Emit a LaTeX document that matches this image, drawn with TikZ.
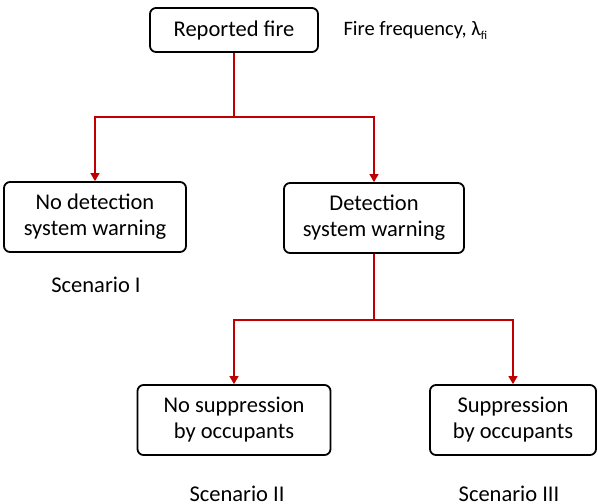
\documentclass[tikz,border=0pt]{standalone}
\usepackage{fontspec}
\setmainfont{Carlito}
\usepackage{tikz}
\usetikzlibrary{arrows.meta, positioning, calc}

\definecolor{treered}{RGB}{192,0,0}

\tikzset{
    eventbox/.style={draw, line width=1.8pt, rounded corners=6pt, align=center,
        font=\fontsize{22.5}{26}\selectfont, inner sep=0pt},
    branch/.style={treered, line width=1.3pt},
    branchto/.style={branch, -{Triangle[width=9pt,length=8pt]}},
    scenlabel/.style={font=\fontsize{22.5}{26}\selectfont}
}

\begin{document}
\begin{tikzpicture}[x=1pt, y=-1pt]
\useasboundingbox (0,0) rectangle (598,504);

% Initiating event
\node[eventbox, minimum width=168pt, minimum height=44pt] (fire) at (234,30) {Reported fire};
\node[anchor=west, font=\fontsize{20.5}{24}\selectfont] (freq) at (340,30)
    {Fire frequency, λ\raisebox{-0.4ex}{\fontsize{12}{14}\selectfont fi}};

% Detection branch
\node[eventbox, minimum width=182pt, minimum height=70pt] (nodet) at (95,217)
    {No detection\\system warning};
\node[eventbox, minimum width=180pt, minimum height=70pt] (det) at (374,218)
    {Detection\\system warning};
\node[scenlabel] (scen1) at (96,285) {Scenario I};

% Suppression branch
\node[eventbox, minimum width=193pt, minimum height=70pt] (nosup) at (234,420)
    {No suppression\\by occupants};
\node[eventbox, minimum width=166pt, minimum height=70pt] (sup) at (513,420)
    {Suppression\\by occupants};
\node[scenlabel] (scen2) at (237,494) {Scenario II};
\node[scenlabel] (scen3) at (509,494) {Scenario III};

% Connectors
\coordinate (split1) at (234,117);
\coordinate (split2) at (374,320);
\draw[branch] (fire) -- (split1);
\draw[branchto] (split1) -| (nodet.north);
\draw[branchto] (split1) -| (det.north);
\draw[branch] (det) -- (split2);
\draw[branchto] (split2) -| (nosup.north);
\draw[branchto] (split2) -| (sup.north);
\end{tikzpicture}
\end{document}
